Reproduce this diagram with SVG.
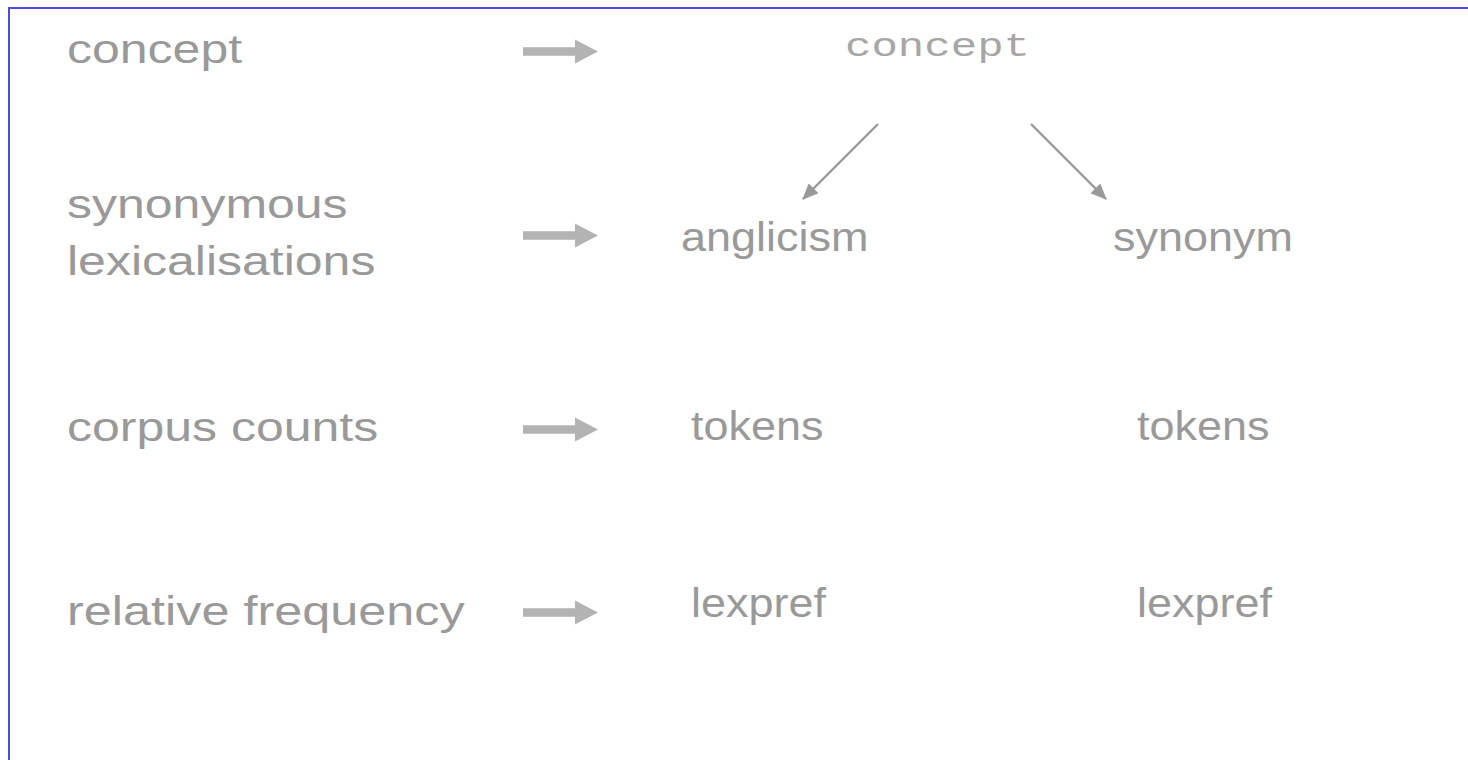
<svg xmlns="http://www.w3.org/2000/svg" width="1468" height="760" viewBox="0 0 1468 760">
  <style>
    .lbl { font-family: "Liberation Sans", Arial, sans-serif; font-size: 40px; fill: #999999; }
    .mono { font-family: "Liberation Mono", "Courier New", monospace; font-size: 33px; fill: #a6a6a6; }
    .fat { fill: #b3b3b3; }
    .thin { stroke: #999999; stroke-width: 2.4; fill: none; }
  </style>
  <defs>
    <marker id="tip" viewBox="0 0 16 14" refX="15" refY="7" markerWidth="16" markerHeight="14" markerUnits="userSpaceOnUse" orient="auto">
      <path d="M0,0 L16,7 L0,14 z" fill="#999999"/>
    </marker>
    <!-- block arrow used for the row pointers -->
    <path id="blockArrow" d="M0,-4.3 L52,-4.3 L52,-12 L75,0 L52,12 L52,4.3 L0,4.3 z"/>
  </defs>

  <rect width="1468" height="760" fill="#ffffff"/>
  <!-- frame -->
  <path d="M9,770 L9,8 L1480,8" fill="none" stroke="#4c4cdc" stroke-width="2"/>

  <!-- row labels -->
  <g id="row-concept">
    <text class="lbl" transform="translate(67,63) scale(1.25,1)">concept</text>
  </g>
  <g id="row-lexicalisations">
    <text class="lbl" transform="translate(67,218) scale(1.25,1)">synonymous</text>
    <text class="lbl" transform="translate(67,275) scale(1.25,1)">lexicalisations</text>
  </g>
  <g id="row-counts">
    <text class="lbl" transform="translate(67,441) scale(1.25,1)">corpus counts</text>
  </g>
  <g id="row-frequency">
    <text class="lbl" transform="translate(67,625) scale(1.26,1)">relative frequency</text>
  </g>

  <!-- tree nodes -->
  <g id="node-concept">
    <text class="mono" transform="translate(845,56) scale(1.335,1)">concept</text>
  </g>
  <g id="node-anglicism">
    <text class="lbl" transform="translate(681,251) scale(1.125,1)">anglicism</text>
  </g>
  <g id="node-synonym">
    <text class="lbl" transform="translate(1113,251) scale(1.125,1)">synonym</text>
  </g>
  <g id="node-tokens-a">
    <text class="lbl" transform="translate(691,440) scale(1.125,1)">tokens</text>
  </g>
  <g id="node-tokens-s">
    <text class="lbl" transform="translate(1137,440) scale(1.125,1)">tokens</text>
  </g>
  <g id="node-lexpref-a">
    <text class="lbl" transform="translate(691,617) scale(1.125,1)">lexpref</text>
  </g>
  <g id="node-lexpref-s">
    <text class="lbl" transform="translate(1137,617) scale(1.125,1)">lexpref</text>
  </g>

  <!-- connectors -->
  <g id="connectors">
    <use href="#blockArrow" class="fat" transform="translate(523,51.5)"/>
    <use href="#blockArrow" class="fat" transform="translate(523,235.5)"/>
    <use href="#blockArrow" class="fat" transform="translate(523,429.5)"/>
    <use href="#blockArrow" class="fat" transform="translate(523,612.5)"/>
    <line class="thin" x1="878" y1="124" x2="803" y2="199" marker-end="url(#tip)"/>
    <line class="thin" x1="1031" y1="124" x2="1106" y2="199" marker-end="url(#tip)"/>
  </g>
</svg>
